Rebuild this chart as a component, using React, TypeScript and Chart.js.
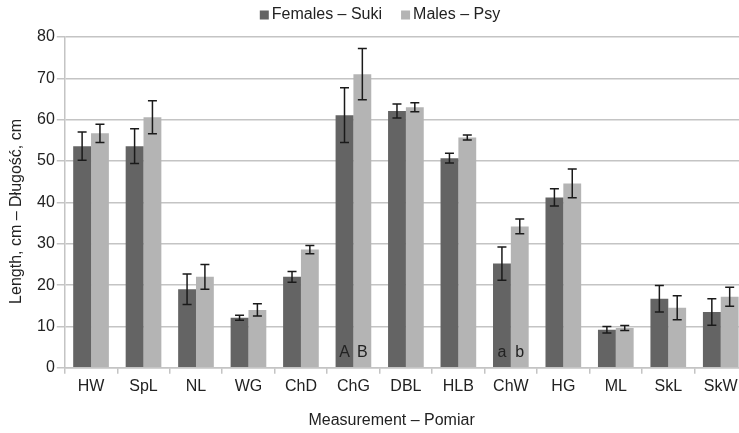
import React, { useEffect, useRef } from 'react';
import { Chart, registerables } from 'chart.js';

Chart.register(...registerables);

const categories = ['HW', 'SpL', 'NL', 'WG', 'ChD', 'ChG', 'DBL', 'HLB', 'ChW', 'HG', 'ML', 'SkL', 'SkW'];
const femalesMean = [53.6, 53.6, 19.0, 12.1, 22.0, 61.1, 62.1, 50.7, 25.2, 41.2, 9.2, 16.7, 13.5];
const femalesErr = [3.4, 4.2, 3.7, 0.6, 1.3, 6.6, 1.7, 1.2, 4.0, 2.1, 0.8, 3.2, 3.2];
const malesMean = [56.7, 60.6, 22.0, 14.0, 28.6, 71.0, 63.0, 55.7, 34.2, 44.6, 9.6, 14.5, 17.2];
const malesErr = [2.2, 4.0, 3.0, 1.5, 1.0, 6.2, 1.1, 0.6, 1.8, 3.5, 0.6, 2.9, 2.3];
const femalesMarks = ['', '', '', '', '', 'A', '', '', 'a', '', '', '', ''];
const malesMarks = ['', '', '', '', '', 'B', '', '', 'b', '', '', '', ''];
const seriesNames = ['Females – Suki', 'Males – Psy'];
const seriesColors = ['#646464', '#b4b4b4'];
const xTitle = 'Measurement – Pomiar';
const yTitle = 'Length, cm – Długość, cm';

const FONT = "'Liberation Sans', Arial, sans-serif";
const TEXT = '#222222';
const GRID = '#c4c4c4';

const errorBarPlugin = {
  id: 'errorBars',
  afterDatasetsDraw(chart: any) {
    const ctx = chart.ctx;
    const y = chart.scales.y;
    chart.data.datasets.forEach((ds: any, di: number) => {
      const meta = chart.getDatasetMeta(di);
      meta.data.forEach((bar: any, i: number) => {
        const v = ds.data[i];
        const e = ds.errors[i];
        const yt = y.getPixelForValue(v + e);
        const yb = y.getPixelForValue(v - e);
        const cap = 4.5;
        ctx.save();
        ctx.strokeStyle = '#1a1a1a';
        ctx.lineWidth = 1.5;
        ctx.beginPath();
        ctx.moveTo(bar.x, yt);
        ctx.lineTo(bar.x, yb);
        ctx.moveTo(bar.x - cap, yt);
        ctx.lineTo(bar.x + cap, yt);
        ctx.moveTo(bar.x - cap, yb);
        ctx.lineTo(bar.x + cap, yb);
        ctx.stroke();
        ctx.restore();
        const m = ds.marks[i];
        if (m) {
          ctx.save();
          ctx.fillStyle = TEXT;
          ctx.font = `16px ${FONT}`;
          ctx.textAlign = 'center';
          ctx.textBaseline = 'middle';
          ctx.fillText(m, bar.x, y.getPixelForValue(3.6));
          ctx.restore();
        }
      });
    });
  },
};

const titlesPlugin = {
  id: 'axisTitles',
  afterDraw(chart: any) {
    const ctx = chart.ctx;
    const a = chart.chartArea;
    ctx.save();
    ctx.fillStyle = TEXT;
    ctx.font = `16px ${FONT}`;
    ctx.textAlign = 'center';
    ctx.textBaseline = 'middle';
    ctx.fillText(xTitle, a.left + (a.right - a.left) * 0.479, a.bottom + 53);
    ctx.translate(a.left - 48, (a.top + a.bottom) / 2 + 9);
    ctx.rotate(-Math.PI / 2);
    ctx.fillText(yTitle, 0, 0);
    ctx.restore();

    // legend
    ctx.save();
    ctx.font = `16px ${FONT}`;
    ctx.textBaseline = 'middle';
    ctx.textAlign = 'left';
    const box = 9;
    const gap = 3;
    const spacing = 19;
    const widths = chart.data.datasets.map((ds: any) => box + gap + ctx.measureText(ds.label).width);
    const total = widths.reduce((s: number, w: number) => s + w, 0) + spacing * (widths.length - 1);
    let x = chart.width / 2 - total / 2;
    const cy = a.top - 22;
    chart.data.datasets.forEach((ds: any, i: number) => {
      ctx.fillStyle = ds.backgroundColor;
      ctx.fillRect(x, cy - box / 2, box, box);
      ctx.fillStyle = TEXT;
      ctx.fillText(ds.label, x + box + gap, cy);
      x += widths[i] + spacing;
    });
    ctx.restore();
  },
};

export default function App() {
  const ref = useRef<HTMLCanvasElement | null>(null);
  useEffect(() => {
    if (!ref.current) return;
    const chart = new Chart(ref.current, {
      type: 'bar',
      data: {
        labels: categories,
        datasets: [
          {
            label: seriesNames[0],
            data: femalesMean,
            backgroundColor: seriesColors[0],
            errors: femalesErr,
            marks: femalesMarks,
          } as any,
          {
            label: seriesNames[1],
            data: malesMean,
            backgroundColor: seriesColors[1],
            errors: malesErr,
            marks: malesMarks,
          } as any,
        ],
      },
      options: {
        responsive: false,
        animation: false,
        layout: { padding: { left: 35, right: 13, top: 37, bottom: 34 } },
        datasets: { bar: { categoryPercentage: 0.68, barPercentage: 1 } },
        plugins: {
          legend: { display: false },
          tooltip: { enabled: false },
        },
        scales: {
          x: {
            grid: {
              offset: true,
              drawOnChartArea: false,
              drawTicks: true,
              tickLength: 6,
              color: GRID,
              lineWidth: 1.5,
            },
            border: { color: GRID, width: 1.5 },
            ticks: { color: TEXT, font: { family: FONT, size: 16 }, padding: 3 },
          },
          y: {
            min: 0,
            max: 80,
            ticks: { stepSize: 10, color: TEXT, font: { family: FONT, size: 16 }, padding: 2 },
            grid: { color: GRID, lineWidth: 1.5, tickLength: 8 },
            border: { color: GRID, width: 1.5 },
          },
        },
      },
      plugins: [errorBarPlugin, titlesPlugin],
    });
    return () => chart.destroy();
  }, []);
  return (
    <div style={{ position: 'fixed', left: 0, top: 0, width: 739, height: 433, overflow: 'hidden', background: '#fff' }}>
      <canvas ref={ref} width={760} height={433} />
    </div>
  );
}
